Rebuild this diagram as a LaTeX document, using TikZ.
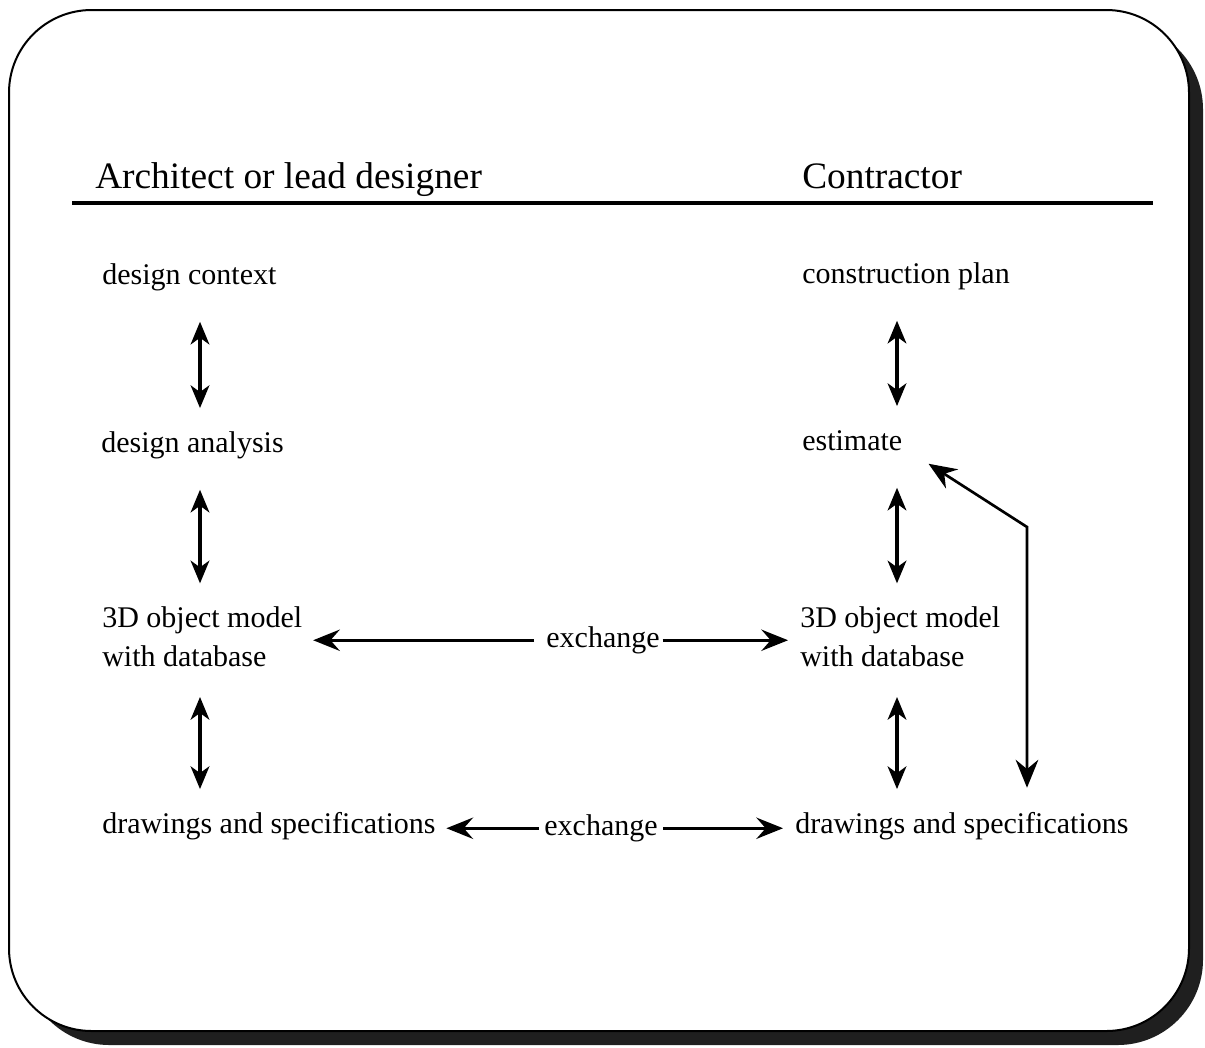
\documentclass[tikz,border=0pt]{standalone}
\usepackage{fontspec}
\setmainfont{Liberation Serif}
\usetikzlibrary{arrows.meta,calc}
\begin{document}
\begin{tikzpicture}[x=0.75pt,y=-0.75pt,
  head/.style={inner sep=0pt, anchor=base west, font=\fontsize{28}{34}\selectfont},
  lbl/.style={inner sep=0pt, anchor=base west, font=\fontsize{22.5}{28.5}\selectfont,
    text height=15.75pt, text depth=5.6pt},
  multi/.style={inner sep=0pt, anchor=north west, align=left,
    font=\fontsize{22.5}{29.5}\selectfont},
  xlbl/.style={inner sep=0pt, anchor=base, font=\fontsize{22.5}{28.5}\selectfont,
    text height=15.75pt, text depth=5.6pt},
  vlink/.style={line width=2.6pt, {Stealth[length=17pt,width=14pt,inset=5pt]}-{Stealth[length=17pt,width=14pt,inset=5pt]},
    shorten <=22.5pt, shorten >=17pt},
  xlink/.style={line width=2pt, -{Stealth[length=20pt,width=16pt,inset=7pt]}},
  fblink/.style={line width=2pt, {Stealth[length=21pt,width=17pt,inset=7pt]}-{Stealth[length=21pt,width=17pt,inset=7pt]}},
]
\useasboundingbox (0,0) rectangle (1205,1047);

% panel with drop shadow
\fill[black!88, rounded corners=64pt] (24,24) rectangle (1203,1045);
\draw[line width=1.5pt, fill=white, rounded corners=62pt] (9,10) rectangle (1189,1031);

% column headings and rule
\node[head] (hA) at (95,188) {Architect or lead designer};
\node[head] (hC) at (802,188) {Contractor};
\coordinate (ruleL) at (72,203);
\coordinate (ruleR) at (1153,203);
\draw[line width=3pt] (ruleL) -- (ruleR);

% column axes for the vertical arrows
\coordinate (xL) at (200,0);
\coordinate (xR) at (897,0);

% architect column
\node[lbl] (dc) at (102,284) {design context};
\node[lbl] (da) at (101,452) {design analysis};
\node[multi] (mL) at (102,606) {3D object model\\with database};
\node[lbl] (dL) at (102,833) {drawings and specifications};

% contractor column
\node[lbl] (cp) at (802,283) {construction plan};
\node[lbl] (est) at (802,450) {estimate};
\node[multi] (mR) at (800,606) {3D object model\\with database};
\node[lbl] (dR) at (795,833) {drawings and specifications};

% exchange labels
\node[xlbl] (ex1) at (603,647) {exchange};
\node[xlbl] (ex2) at (601,835) {exchange};

% vertical links
\draw[vlink] (dc.south -| xL) -- (da.north -| xL);
\draw[vlink] (da.south -| xL) -- (mL.north -| xL);
\draw[vlink] (mL.south -| xL) -- (dL.north -| xL);
\draw[vlink] (cp.south -| xR) -- (est.north -| xR);
\draw[vlink] (est.south -| xR) -- (mR.north -| xR);
\draw[vlink] (mR.south -| xR) -- (dR.north -| xR);

% exchanges between the two sides
\draw[xlink, shorten <=9pt, shorten >=8pt] (ex1.west) -- (mL.east |- ex1.west);
\draw[xlink, shorten <=2pt, shorten >=9pt] (ex1.east) -- (mR.west |- ex1.east);
\draw[xlink, shorten <=4pt, shorten >=8pt] (ex2.west) -- (dL.east |- ex2.west);
\draw[xlink, shorten <=4pt, shorten >=9pt] (ex2.east) -- (dR.west |- ex2.east);

% feedback from drawings to estimate
\coordinate (bend) at (1027,527);
\draw[fblink, shorten >=18pt] ($(est.south east)+(26,6)$) -- (bend) -- (dR.north -| bend);
\end{tikzpicture}
\end{document}
